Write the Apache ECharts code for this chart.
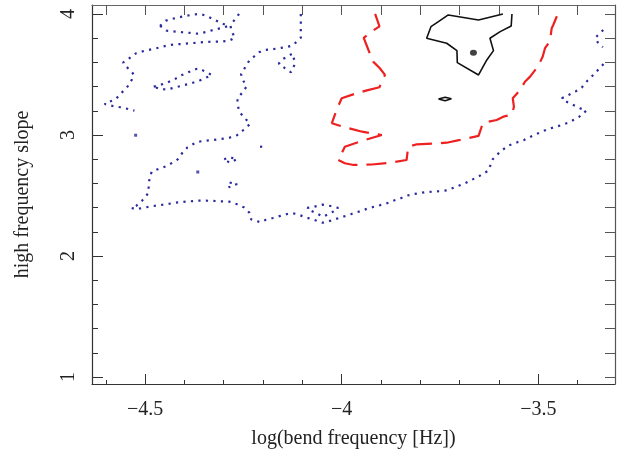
<!DOCTYPE html>
<html>
<head>
<meta charset="utf-8">
<script src="https://cdn.jsdelivr.net/npm/echarts@6/dist/echarts.min.js"></script>
<style>html,body{margin:0;padding:0;background:#fff}#c{width:627px;height:457px}</style>
</head>
<body>
<div id="c"></div>
<script>
// ---- tick values ----
var xMajorTicks = [-4.5, -4, -3.5];
var xMinorTicks = [-4.6, -4.4, -4.3, -4.2, -4.1, -3.9, -3.8, -3.7, -3.6, -3.4];
var xTopTicks = [-4.6, -4.5, -4.4, -4.3, -4.2, -4.1, -4.0, -3.9, -3.8, -3.7, -3.6, -3.5, -3.4];
var yMajorTicks = [1, 2, 3, 4];
var yMinorTicks = [1.2, 1.4, 1.6, 1.8, 2.2, 2.4, 2.6, 2.8, 3.2, 3.4, 3.6, 3.8];
var yRightTicks = [1.0, 1.2, 1.4, 1.6, 1.8, 2.0, 2.2, 2.4, 2.6, 2.8, 3.0, 3.2, 3.4, 3.6, 3.8, 4.0];

// ---- outer contour (blue dotted) pieces ----
var blueLoopTop = [[-4.462,3.901],[-4.447,3.945],[-4.425,3.964],[-4.406,3.978],[-4.387,3.989],[-4.368,3.998],[-4.357,3.998],[-4.340,3.978],[-4.322,3.950],[-4.305,3.923],[-4.288,3.901],[-4.308,3.882],[-4.327,3.868],[-4.345,3.851],[-4.366,3.837],[-4.385,3.843],[-4.405,3.849],[-4.423,3.854],[-4.445,3.862],[-4.462,3.901]];
var blueLeft = [[-4.261,4.0],[-4.273,3.950],[-4.283,3.903],[-4.280,3.860],[-4.272,3.804],[-4.286,3.779],[-4.306,3.771],[-4.326,3.771],[-4.345,3.769],[-4.366,3.763],[-4.385,3.758],[-4.405,3.752],[-4.423,3.750],[-4.442,3.741],[-4.459,3.727],[-4.478,3.711],[-4.500,3.697],[-4.523,3.675],[-4.540,3.634],[-4.556,3.598],[-4.542,3.545],[-4.529,3.502],[-4.534,3.455],[-4.546,3.394],[-4.561,3.345],[-4.574,3.298],[-4.603,3.256],[-4.583,3.240],[-4.563,3.229],[-4.546,3.217],[-4.527,3.201]];
var blueLoopMid = [[-4.478,3.399],[-4.462,3.413],[-4.442,3.436],[-4.425,3.460],[-4.408,3.493],[-4.387,3.523],[-4.370,3.545],[-4.362,3.548],[-4.347,3.523],[-4.330,3.496],[-4.347,3.471],[-4.364,3.446],[-4.383,3.427],[-4.399,3.413],[-4.419,3.397],[-4.445,3.374],[-4.464,3.383],[-4.478,3.399]];
var blueMain = [[-4.104,4.0],[-4.104,3.903],[-4.104,3.868],[-4.104,3.804],[-4.112,3.777],[-4.126,3.738],[-4.140,3.727],[-4.159,3.717],[-4.178,3.708],[-4.197,3.702],[-4.210,3.683],[-4.225,3.642],[-4.238,3.601],[-4.246,3.556],[-4.256,3.502],[-4.252,3.460],[-4.242,3.399],[-4.253,3.350],[-4.265,3.300],[-4.265,3.262],[-4.261,3.193],[-4.246,3.138],[-4.233,3.091],[-4.250,3.041],[-4.266,2.998],[-4.286,2.977],[-4.306,2.967],[-4.326,2.959],[-4.345,2.953],[-4.364,2.945],[-4.374,2.931],[-4.392,2.898],[-4.406,2.849],[-4.417,2.799],[-4.427,2.777],[-4.447,2.741],[-4.466,2.719],[-4.483,2.697],[-4.487,2.661],[-4.491,2.601],[-4.491,2.560],[-4.491,2.523],[-4.508,2.455],[-4.523,2.413],[-4.535,2.397],[-4.523,2.386],[-4.498,2.402],[-4.478,2.413],[-4.460,2.421],[-4.442,2.430],[-4.423,2.440],[-4.405,2.446],[-4.385,2.452],[-4.366,2.457],[-4.345,2.457],[-4.326,2.455],[-4.306,2.452],[-4.286,2.449],[-4.266,2.427],[-4.249,2.402],[-4.235,2.358],[-4.230,2.302],[-4.207,2.279],[-4.194,2.298],[-4.175,2.314],[-4.156,2.331],[-4.138,2.347],[-4.126,2.355],[-4.108,2.339],[-4.089,2.317],[-4.070,2.298],[-4.048,2.275],[-4.028,2.292],[-4.015,2.306],[-3.996,2.325],[-3.977,2.345],[-3.949,2.374],[-3.932,2.394],[-3.913,2.411],[-3.887,2.432],[-3.870,2.455],[-3.852,2.474],[-3.835,2.498],[-3.816,2.512],[-3.790,2.526],[-3.770,2.531],[-3.752,2.535],[-3.731,2.543],[-3.712,2.568],[-3.688,2.598],[-3.671,2.626],[-3.650,2.661],[-3.627,2.705],[-3.616,2.799],[-3.597,2.862],[-3.576,2.912],[-3.555,2.938],[-3.536,2.959],[-3.518,2.988],[-3.491,3.027],[-3.474,3.050],[-3.457,3.066],[-3.440,3.083],[-3.423,3.102],[-3.411,3.124],[-3.396,3.151],[-3.378,3.201],[-3.394,3.221],[-3.414,3.252],[-3.434,3.283],[-3.440,3.303],[-3.423,3.331],[-3.406,3.358],[-3.389,3.394],[-3.375,3.449],[-3.360,3.496],[-3.346,3.545],[-3.334,3.587]];
var blueRightTop = [[-3.335,3.868],[-3.343,3.840],[-3.355,3.804],[-3.349,3.766],[-3.336,3.725]];
var blueLoopSmallA = [[-4.127,3.669],[-4.138,3.647],[-4.154,3.620],[-4.160,3.587],[-4.144,3.551],[-4.129,3.518],[-4.121,3.573],[-4.119,3.612],[-4.127,3.669]];
var blueLoopSmallB = [[-4.299,2.799],[-4.285,2.816],[-4.266,2.799],[-4.285,2.771],[-4.299,2.799]];
var blueLoopSmallC = [[-4.285,2.606],[-4.266,2.595],[-4.286,2.568],[-4.285,2.606]];
var blueLoopSmallD = [[-4.205,2.912],[-4.205,2.882]];
var blueLoopDiamond = [[-4.088,2.397],[-4.070,2.407],[-4.049,2.424],[-4.028,2.413],[-4.009,2.397],[-4.013,2.380],[-4.030,2.353],[-4.047,2.325],[-4.061,2.347],[-4.078,2.374],[-4.088,2.397]];
var blueDots = [[-4.524,2.998],[-4.366,2.694]];

// ---- middle contour (red dashed) ----
var redContour = [[-3.915,4.0],[-3.904,3.897],[-3.924,3.854],[-3.944,3.802],[-3.932,3.702],[-3.920,3.606],[-3.903,3.551],[-3.890,3.496],[-3.898,3.442],[-3.904,3.394],[-3.936,3.368],[-3.962,3.345],[-4.000,3.303],[-4.013,3.207],[-4.025,3.097],[-3.992,3.064],[-3.948,3.027],[-3.898,3.000],[-3.941,2.959],[-3.992,2.903],[-4.000,2.849],[-4.009,2.793],[-3.992,2.766],[-3.970,2.752],[-3.923,2.756],[-3.877,2.771],[-3.835,2.793],[-3.831,2.903],[-3.809,2.923],[-3.758,2.931],[-3.733,2.936],[-3.699,2.959],[-3.652,2.992],[-3.641,3.099],[-3.606,3.124],[-3.589,3.151],[-3.567,3.169],[-3.562,3.234],[-3.565,3.303],[-3.546,3.372],[-3.534,3.440],[-3.521,3.482],[-3.500,3.570],[-3.495,3.606],[-3.489,3.647],[-3.483,3.717],[-3.474,3.758],[-3.470,3.785],[-3.466,3.882],[-3.462,3.909],[-3.451,3.995]];

// ---- inner contour (black solid) ----
var blackContour = [[-3.567,4.0],[-3.569,3.901],[-3.597,3.854],[-3.623,3.799],[-3.614,3.697],[-3.631,3.620],[-3.652,3.496],[-3.706,3.598],[-3.707,3.697],[-3.733,3.758],[-3.784,3.799],[-3.773,3.895],[-3.754,3.936],[-3.729,3.992],[-3.652,3.950],[-3.590,4.0]];
var blackLens = [[-3.754,3.298],[-3.737,3.312],[-3.721,3.299],[-3.737,3.283],[-3.754,3.298]];
var blackDot = [[-3.665,3.680]];

var FONT = 'Liberation Serif';
var AX = '#333';
var chart = echarts.init(document.getElementById('c'));

var blueStyle = {color: '#2b2b9c', width: 2.2, type: [2.2, 5.3], cap: 'butt'};
var redStyle = {color: '#ee2020', width: 2.2, type: [20, 9], cap: 'butt'};
var blackStyle = {color: '#111', width: 1.6, type: 'solid'};

function ln(data, style) {
  return {type: 'line', data: data, symbol: 'none', showSymbol: false, lineStyle: style, silent: true, animation: false, xAxisIndex: 0, yAxisIndex: 0};
}

var xr = [-4.635, -3.305], yr = [0.942, 4.074];
function fmt(v) { return (v < 0 ? '\u2212' : '') + Math.abs(v); }

var option = {
  animation: false,
  grid: {left: 92, right: 12, top: 5, bottom: 73, containLabel: false},
  xAxis: [
    {type: 'value', position: 'bottom', min: xr[0], max: xr[1],
     axisLine: {show: true, onZero: false, lineStyle: {color: AX, width: 1.2}},
     axisTick: {show: true, inside: true, length: 10, customValues: xMajorTicks, lineStyle: {color: AX, width: 1}},
     axisLabel: {show: true, customValues: xMajorTicks, formatter: fmt, fontFamily: FONT, fontSize: 20, color: '#222', margin: 16},
     splitLine: {show: false},
     name: 'log(bend frequency [Hz])', nameLocation: 'middle', nameGap: 45,
     nameTextStyle: {fontFamily: FONT, fontSize: 20, color: '#222'}},
    {type: 'value', position: 'bottom', min: xr[0], max: xr[1],
     axisLine: {show: false, onZero: false},
     axisTick: {show: true, inside: true, length: 4, customValues: xMinorTicks, lineStyle: {color: AX, width: 1}},
     axisLabel: {show: false}, splitLine: {show: false}},
    {type: 'value', position: 'top', min: xr[0], max: xr[1],
     axisLine: {show: true, onZero: false, lineStyle: {color: '#666', width: 1.2}},
     axisTick: {show: true, inside: true, length: 10, customValues: xTopTicks, lineStyle: {color: '#555', width: 1}},
     axisLabel: {show: false}, splitLine: {show: false}}
  ],
  yAxis: [
    {type: 'value', position: 'left', min: yr[0], max: yr[1],
     axisLine: {show: true, onZero: false, lineStyle: {color: AX, width: 1.2}},
     axisTick: {show: true, inside: true, length: 11, customValues: yMajorTicks, lineStyle: {color: AX, width: 1}},
     axisLabel: {show: true, customValues: yMajorTicks, rotate: 90, fontFamily: FONT, fontSize: 20, color: '#222', margin: 13},
     splitLine: {show: false},
     name: 'high frequency slope', nameLocation: 'middle', nameGap: 59, nameRotate: 90,
     nameTextStyle: {fontFamily: FONT, fontSize: 20, color: '#222'}},
    {type: 'value', position: 'left', min: yr[0], max: yr[1],
     axisLine: {show: false, onZero: false},
     axisTick: {show: true, inside: true, length: 6, customValues: yMinorTicks, lineStyle: {color: AX, width: 1}},
     axisLabel: {show: false}, splitLine: {show: false}},
    {type: 'value', position: 'right', min: yr[0], max: yr[1],
     axisLine: {show: true, onZero: false, lineStyle: {color: '#555', width: 1.2}},
     axisTick: {show: true, inside: true, length: 10, customValues: yRightTicks, lineStyle: {color: '#555', width: 1}},
     axisLabel: {show: false}, splitLine: {show: false}}
  ],
  series: [
    ln(blueLoopTop, blueStyle),
    ln(blueLeft, blueStyle),
    ln(blueLoopMid, blueStyle),
    ln(blueMain, blueStyle),
    ln(blueRightTop, blueStyle),
    ln(blueLoopSmallA, blueStyle),
    ln(blueLoopSmallB, blueStyle),
    ln(blueLoopSmallC, blueStyle),
    ln(blueLoopSmallD, blueStyle),
    ln(blueLoopDiamond, blueStyle),
    {type: 'scatter', data: blueDots, symbol: 'rect', symbolSize: 3, itemStyle: {color: '#2b2b9c'}, silent: true, animation: false},
    ln(redContour, redStyle),
    ln(blackContour, blackStyle),
    ln(blackLens, blackStyle),
    {type: 'scatter', data: blackDot, symbol: 'circle', symbolSize: [7, 6], itemStyle: {color: '#111'}, silent: true, animation: false}
  ]
};
chart.setOption(option);
</script>
</body>
</html>
